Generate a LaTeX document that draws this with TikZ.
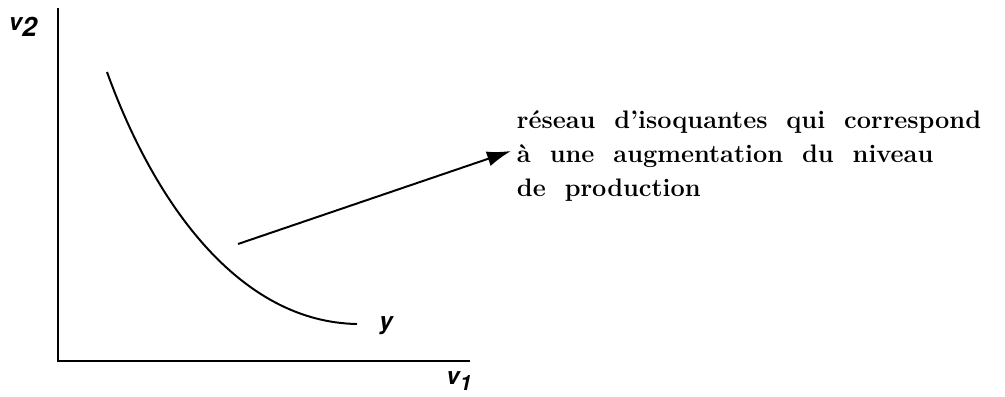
\documentclass[tikz,border=0pt]{standalone}
\usepackage{fontspec}
\newfontfamily\axisfont{TeX Gyre Heros}
\usetikzlibrary{arrows.meta}

\tikzset{
  axislabel/.style={font=\axisfont\bfseries\itshape\fontsize{17}{17}\selectfont, inner sep=0pt},
  legend/.style={font=\bfseries\fontsize{18}{24}\selectfont, align=left, inner sep=0pt, anchor=west},
}

\begin{document}
\begin{tikzpicture}[x=0.025cm, y=-0.025cm, line width=1.4pt]
            \useasboundingbox (0,0) rectangle (1005,396);
            % axes
            \coordinate (o) at (58,361);
            \coordinate (top) at (58,8);
            \coordinate (right) at (470,361);
            \draw (top) -- (o) -- (right);
            \node[axislabel] (v2) at (23,27) {v\raisebox{-0.25em}{\fontsize{19}{19}\selectfont 2}};
            \node[axislabel] (v1) at (459,381) {v\raisebox{-0.25em}{\fontsize{15}{15}\selectfont 1}};
            % isoquante
            \coordinate (c0) at (107,72);
            \coordinate (c1) at (357,324);
            \draw (c0) .. controls (155,205) and (240,322) .. (c1);
            \node[axislabel] (y) at (386,326) {y};
            % fleche vers le reseau
            \coordinate (a0) at (238,244);
            \coordinate (a1) at (511,151);
            \draw[-{Latex[length=0.6cm, width=0.38cm]}] (a0) -- (a1);
            \node[legend] (txt) at (516,156) {r\'eseau\ \ d'isoquantes\ \ qui\ \ correspond\\
              \`a\ \ une\ \ augmentation\ \ du\ \ niveau\\
              de\ \ production};
        \end{tikzpicture}
\end{document}
